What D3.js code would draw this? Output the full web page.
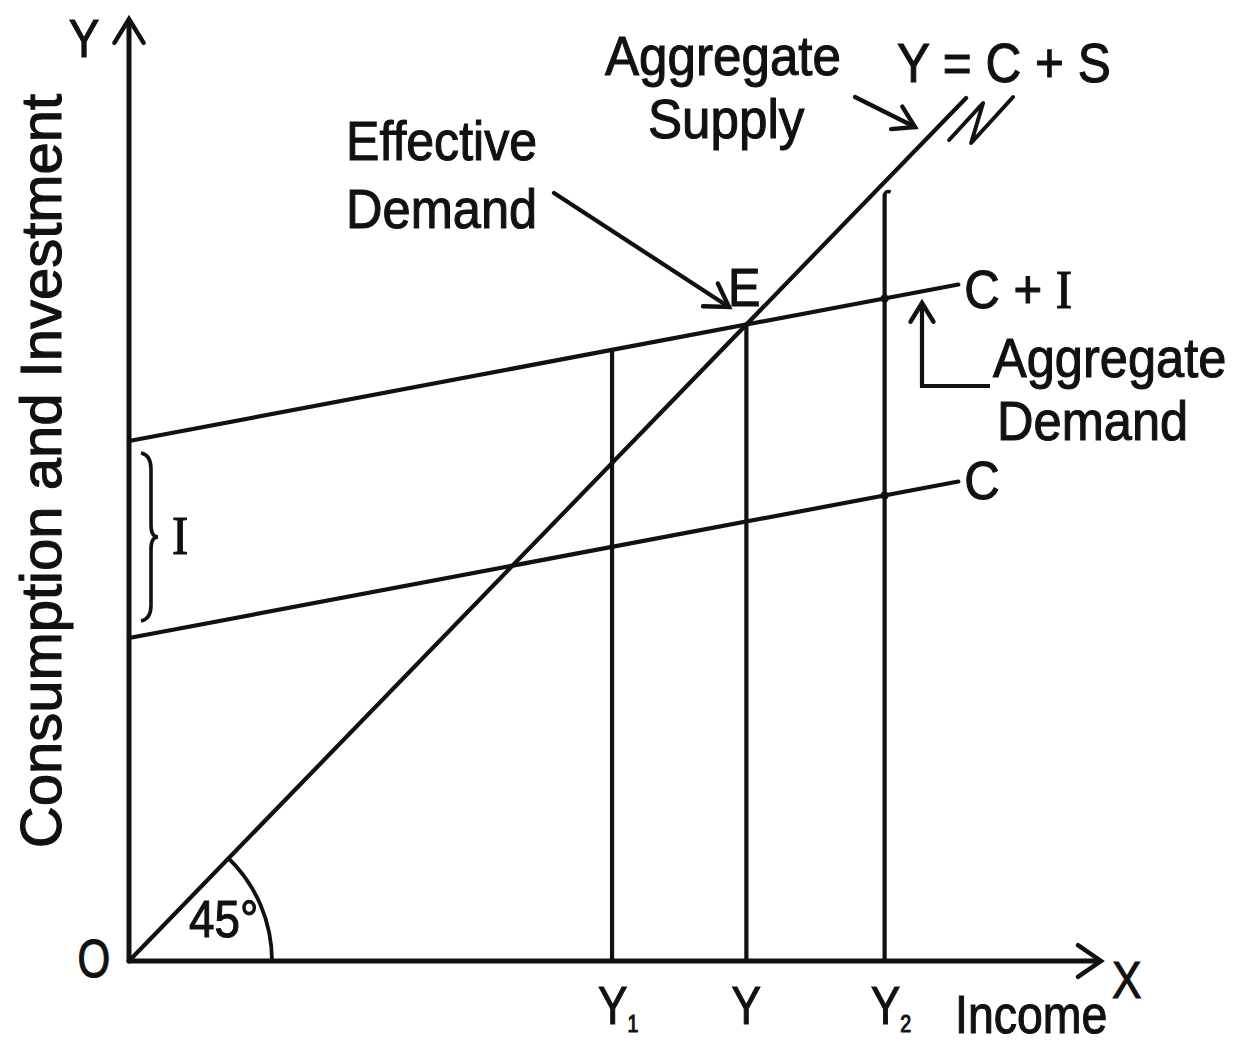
<!DOCTYPE html>
<html><head><meta charset="utf-8">
<script src="https://cdn.jsdelivr.net/npm/d3@7"></script>
<style>body{margin:0;background:#fff}</style>
</head><body>
<svg id="chart" width="1236" height="1047"></svg>
<script>
// ---------- data (model values, in income / spending units) ----------
const xDomain = [0, 100];          // income
const yDomain = [0, 94];           // consumption and investment
const consumptionIntercept = 32.3; // C at zero income
const investment = 19.7;           // I (autonomous investment)
const mpc = 0.183;                 // slope of C and C+I
const demandLineEnd = 85.5;        // income where C and C+I lines stop
const supplyLineEnd = 86.3;        // income where Y = C + S line stops
const incomeLevels = [             // vertical lines; Y is the equilibrium
  {label: "Y", sub: "1", value: 49.8, top: "demand"},
  {label: "Y", sub: "",  value: null, top: "demand"},
  {label: "Y", sub: "2", value: 77.9, top: "supply"}
];
const curveLabels = {c: "C", ci: "C + I", supply: "Y = C + S"};
const axisLabels = {y: "Consumption and Investment", x: "Income", yLetter: "Y", xLetter: "X", origin: "O"};
const angleLabel = "45°";

// ---------- scales ----------
const svg = d3.select("#chart");
const x = d3.scaleLinear().domain(xDomain).range([129, 1099]);
const y = d3.scaleLinear().domain(yDomain).range([961, 21]);

const C = v => consumptionIntercept + mpc * v;
const CI = v => consumptionIntercept + investment + mpc * v;
const eq = (consumptionIntercept + investment) / (1 - mpc);
incomeLevels[1].value = eq;

const FONT = "'Liberation Sans', Arial, Helvetica, sans-serif";
const ink = "#111";
const g = svg.append("g");

function txt(s, px, py, size, anchor = "start", sx = 0.91, family = FONT) {
  return g.append("text")
    .attr("transform", `translate(${px},${py}) scale(${sx},1)`)
    .attr("text-anchor", anchor)
    .attr("font-family", family)
    .attr("font-size", size)
    .attr("fill", ink)
    .attr("stroke", ink).attr("stroke-width", 1.1)
    .text(s);
}
function arrowHead(tipX, tipY, fromX, fromY, len = 24, spread = 0.55) {
  const a = Math.atan2(tipY - fromY, tipX - fromX);
  const p = d3.path();
  p.moveTo(tipX + len * Math.cos(a + Math.PI - spread), tipY + len * Math.sin(a + Math.PI - spread));
  p.lineTo(tipX, tipY);
  p.lineTo(tipX + len * Math.cos(a + Math.PI + spread), tipY + len * Math.sin(a + Math.PI + spread));
  g.append("path").attr("d", p.toString()).attr("fill", "none").attr("stroke", ink)
    .attr("stroke-width", 4.4).attr("stroke-linejoin", "miter").attr("stroke-linecap", "round");
}
const line = d3.line().x(d => x(d[0])).y(d => y(d[1]));
function drawLine(pts, w = 4.2) {
  g.append("path").attr("d", line(pts)).attr("fill", "none").attr("stroke", ink)
    .attr("stroke-width", w).attr("stroke-linecap", "round");
}

// ---------- axes ----------
drawLine([[0, 0], [0, yDomain[1]]], 5);
drawLine([[0, 0], [xDomain[1], 0]], 5);
arrowHead(x(0), y(yDomain[1]) - 2, x(0), y(0), 28, 0.55);
arrowHead(x(xDomain[1]) + 2, y(0), x(0), y(0), 28, 0.6);

// ---------- curves ----------
drawLine([[0, 0], [supplyLineEnd, supplyLineEnd]]);
drawLine([[0, C(0)], [demandLineEnd, C(demandLineEnd)]]);
drawLine([[0, CI(0)], [demandLineEnd, CI(demandLineEnd)]]);

// break marks at end of Y = C + S
{
  const ex = x(supplyLineEnd), ey = y(supplyLineEnd);
  const p = d3.path();
  p.moveTo(ex - 17, ey + 42); p.lineTo(ex + 17, ey + 5);
  p.lineTo(ex + 5, ey + 45); p.lineTo(ex + 47, ey - 1);
  g.append("path").attr("d", p.toString()).attr("fill", "none").attr("stroke", ink)
    .attr("stroke-width", 4).attr("stroke-linejoin", "round").attr("stroke-linecap", "round");
}

// ---------- vertical income lines ----------
incomeLevels.forEach(d => {
  const top = d.top === "demand" ? CI(d.value) : d.value - 1.3;
  drawLine([[d.value, 0], [d.value, top]]);
  if (d.top === "supply") {
    const p = d3.path();
    p.moveTo(x(d.value), y(top));
    p.quadraticCurveTo(x(d.value) + 1, y(top) - 5, x(d.value) + 6, y(top) - 3);
    g.append("path").attr("d", p.toString()).attr("fill", "none").attr("stroke", ink).attr("stroke-width", 3.6);
    [CI(d.value), C(d.value)].forEach(v => g.append("circle").attr("cx", x(d.value)).attr("cy", y(v)).attr("r", 4).attr("fill", ink));
  }
  const t = txt(d.label, x(d.value), 1024, 54, "middle", 0.82);
  if (d.sub) {
    t.attr("text-anchor", "start").attr("transform", `translate(${x(d.value) - 14},1024) scale(0.82,1)`);
    t.append("tspan").attr("font-size", 24).attr("dy", 8).text(d.sub);
  }
});

// ---------- 45° arc ----------
{
  const r = 143;
  const ang = Math.atan2(y(10) - y(0), x(10) - x(0));
  const p = d3.path();
  p.arc(x(0), y(0), r, ang, 0.0);
  g.append("path").attr("d", p.toString()).attr("fill", "none").attr("stroke", ink).attr("stroke-width", 3.8);
  txt(angleLabel, 189, 937, 52, "start", 0.88);
}

// ---------- brace for I ----------
{
  const top = y(CI(0)) + 12, bot = y(C(0)) - 17, mid = (top + bot) / 2;
  const bx = 151;
  const p = d3.path();
  p.moveTo(bx - 10, top);
  p.quadraticCurveTo(bx, top + 2, bx, top + 16);
  p.lineTo(bx, mid - 12);
  p.quadraticCurveTo(bx, mid, bx + 7, mid);
  p.quadraticCurveTo(bx, mid, bx, mid + 12);
  p.lineTo(bx, bot - 16);
  p.quadraticCurveTo(bx, bot - 2, bx - 10, bot);
  g.append("path").attr("d", p.toString()).attr("fill", "none").attr("stroke", ink).attr("stroke-width", 3.6);
  txt("I", 180, mid + 17, 54, "middle", 0.9, "'Liberation Serif', 'Times New Roman', serif");
}

// ---------- axis letters and titles ----------
txt(axisLabels.yLetter, 84, 57, 54, "middle", 0.85);
txt(axisLabels.origin, 94, 977, 54, "middle", 0.78);
txt(axisLabels.xLetter, 1112, 998, 52, "start", 0.85);
txt(axisLabels.x, 955, 1033, 54, "start", 0.86);
g.append("text")
  .attr("transform", "translate(61,471) rotate(-90)")
  .attr("text-anchor", "middle").attr("font-family", FONT).attr("font-size", 58).attr("fill", ink)
  .attr("stroke", ink).attr("stroke-width", 1.1)
  .text(axisLabels.y);

// ---------- curve labels ----------
txt(curveLabels.c, x(demandLineEnd) + 6, y(C(demandLineEnd)) + 17, 54);
{
  const t = txt("C + ", x(demandLineEnd) + 6, y(CI(demandLineEnd)) + 23, 54);
  t.append("tspan").attr("font-family", "'Liberation Serif', 'Times New Roman', serif").text("I");
}
txt(curveLabels.supply, 897, 82, 55, "start", 0.9);

// ---------- annotations ----------
txt("Aggregate", 605, 75, 55, "start", 0.93);
txt("Supply", 648, 138, 55, "start", 0.93);
drawLineP(855, 97, 915, 127);
arrowHead(915, 127, 855, 97, 24, 0.55);

txt("Effective", 346, 160, 55, "start", 0.91);
txt("Demand", 346, 228, 55, "start", 0.92);
drawLineP(554, 193, 729, 307);
arrowHead(729, 307, 554, 193, 26, 0.55);
txt("E", 728, 306, 54, "start", 0.9);

txt("Aggregate", 993, 377, 55, "start", 0.92);
txt("Demand", 997, 440, 55, "start", 0.92);
g.append("path").attr("d", "M990,386 L922,386 L922,304").attr("fill", "none").attr("stroke", ink).attr("stroke-width", 4.2);
arrowHead(922, 303, 922, 386, 22, 0.55);

function drawLineP(x1, y1, x2, y2) {
  g.append("line").attr("x1", x1).attr("y1", y1).attr("x2", x2).attr("y2", y2)
    .attr("stroke", ink).attr("stroke-width", 4.2).attr("stroke-linecap", "round");
}
</script>
</body></html>
